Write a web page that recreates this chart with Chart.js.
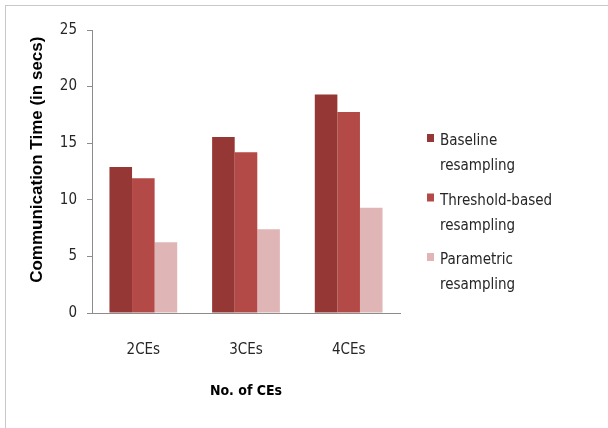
<!DOCTYPE html>
<html lang="en">

<head>
    <meta charset="UTF-8">
    <title>Communication Time</title>
    <script src="https://cdn.jsdelivr.net/npm/chart.js"></script>
    <style>
        body {
            margin: 0;
            background: #fff;
        }

        #wrap {
            position: relative;
            width: 608px;
            height: 428px;
        }

        #frame {
            position: absolute;
            left: 5px;
            top: 5px;
            right: 0;
            bottom: 0;
            border-left: 1px solid #c8c8c8;
            border-top: 1px solid #c8c8c8;
            pointer-events: none;
        }
    </style>
</head>

<body>
    <div id="wrap">
        <canvas id="timeChart" width="608" height="428"></canvas>
        <div id="frame"></div>
    </div>

    <script>
        // values
        const categories = ["2CEs", "3CEs", "4CEs"];
        const seriesNames = ["Baseline resampling", "Threshold-based resampling", "Parametric resampling"];
        const baseline = [12.9, 15.55, 19.3];
        const thresholdBased = [11.9, 14.2, 17.75];
        const parametric = [6.25, 7.4, 9.3];
        const yTicks = [0, 5, 10, 15, 20, 25];

        const colors = ["#953735", "#b34a47", "#dfb6b5"];
        const narrow = "'Liberation Sans Narrow', 'DejaVu Sans Condensed', sans-serif";
        const wide = "'Liberation Sans', Arial, sans-serif";

        // legend on the right, with the labels broken over two lines
        const sideLegend = {
            id: 'sideLegend',
            afterDraw(chart) {
                const ctx = chart.ctx;
                ctx.save();
                ctx.font = "15px " + narrow;
                ctx.textBaseline = 'alphabetic';
                chart.data.datasets.forEach((ds, i) => {
                    let y = 145 + i * 59.5;
                    ctx.fillStyle = ds.backgroundColor;
                    ctx.fillRect(427, y - 11, 7, 8);
                    ctx.fillStyle = '#262626';
                    ds.label.split(" ").forEach((line, j) => {
                        ctx.fillText(line, 440, y + j * 25);
                    });
                });
                ctx.restore();
            }
        };

        let ctx = document.getElementById('timeChart').getContext('2d');
        new Chart(ctx, {
            type: 'bar',
            data: {
                labels: categories,
                datasets: [baseline, thresholdBased, parametric].map((vals, i) => ({
                    label: seriesNames[i],
                    data: vals,
                    backgroundColor: colors[i],
                    categoryPercentage: 0.66,
                    barPercentage: 1
                }))
            },
            options: {
                responsive: false,
                animation: false,
                layout: {
                    padding: { top: 30, right: 208, left: 0, bottom: 0 }
                },
                plugins: {
                    legend: { display: false },
                    tooltip: { enabled: false }
                },
                scales: {
                    x: {
                        grid: { display: false, drawTicks: false },
                        border: { color: '#8c8c8c' },
                        ticks: {
                            padding: 28,
                            color: '#262626',
                            font: { family: narrow, size: 15 }
                        },
                        title: {
                            display: true,
                            text: 'No. of CEs',
                            color: '#000',
                            padding: { top: 0, bottom: 28 },
                            font: { family: narrow, size: 14, weight: 'bold' }
                        },
                        afterFit(scale) { scale.height = 115; }
                    },
                    y: {
                        min: 0,
                        max: 25,
                        afterBuildTicks(scale) {
                            scale.ticks = yTicks.map(v => ({ value: v }));
                        },
                        grid: {
                            drawOnChartArea: false,
                            tickLength: 5,
                            color: '#8c8c8c'
                        },
                        border: { color: '#8c8c8c' },
                        ticks: {
                            padding: 10,
                            color: '#262626',
                            font: { family: narrow, size: 15 }
                        },
                        title: {
                            display: true,
                            text: '\u00a0\u00a0\u00a0\u00a0\u00a0Communication Time (in secs)',
                            color: '#000',
                            padding: { top: 27, bottom: 0 },
                            font: { family: wide, size: 17, weight: 'bold' }
                        },
                        afterFit(scale) { scale.width = 92; }
                    }
                }
            },
            plugins: [sideLegend]
        });
    </script>
</body>

</html>
